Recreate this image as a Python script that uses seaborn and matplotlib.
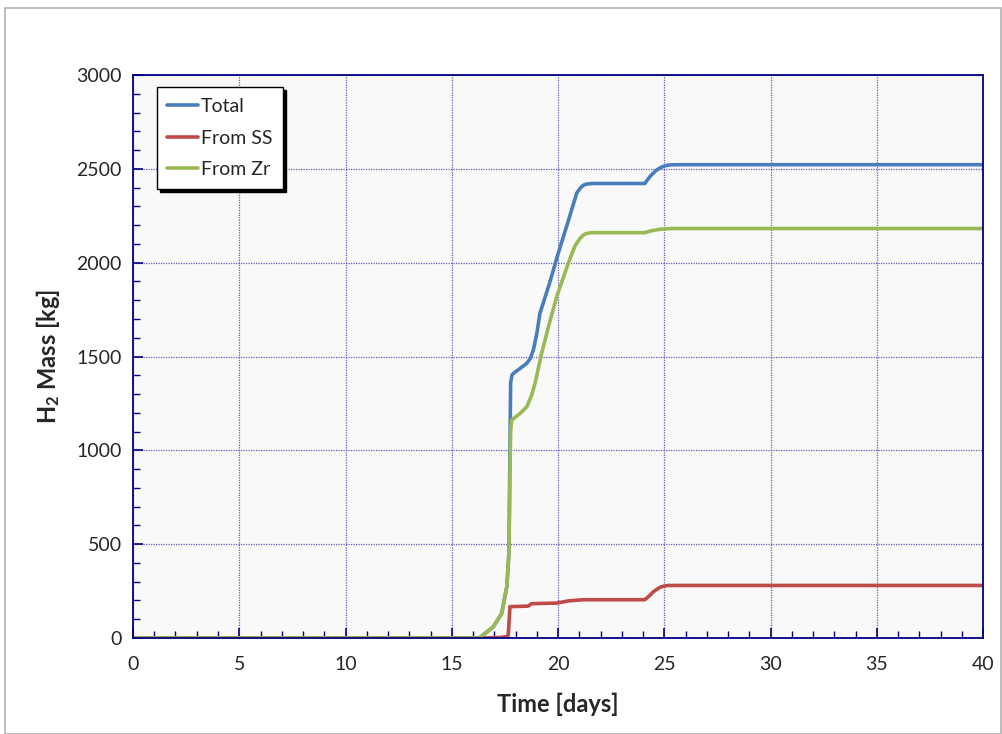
import pandas as pd
import matplotlib.pyplot as plt
import seaborn as sns
from matplotlib.patches import Rectangle
from matplotlib.ticker import MultipleLocator

# Hydrogen mass curves
total_t = [0, 16.3, 16.96, 17.35, 17.59, 17.69, 17.77, 17.83, 17.9, 18.2, 18.53, 18.7,
           18.84, 19.0, 19.15, 19.6, 20.01, 20.45, 20.88, 21.05, 21.2, 21.35, 21.6, 21.8,
           24.09, 24.2, 24.35, 24.6, 24.8, 25.0, 25.2, 25.5, 40]
total_m = [0, 0, 60, 131, 273, 452, 1360, 1400, 1410, 1435, 1464, 1490,
           1535, 1620, 1730, 1890, 2050, 2210, 2370, 2398, 2413, 2419, 2422, 2422,
           2422, 2440, 2462, 2490, 2505, 2515, 2520, 2522, 2522]

zr_t = [0, 16.3, 16.96, 17.35, 17.59, 17.69, 17.77, 17.82, 18.2, 18.53, 18.75, 18.92, 19.23,
        19.6, 19.94, 20.48, 20.8, 21.04, 21.2, 21.35, 21.6, 24.09, 24.4, 24.8, 25.3, 40]
zr_m = [0, 0, 60, 131, 273, 452, 1100, 1162, 1195, 1232, 1290, 1357, 1517,
        1680, 1819, 1996, 2090, 2130, 2148, 2156, 2160, 2160, 2170, 2178, 2182, 2182]

ss_t = [0, 16.5, 17.3, 17.62, 17.66, 17.74, 18.6, 18.75, 19.94, 20.5, 21.19,
        24.09, 24.3, 24.5, 24.8, 25.0, 25.2, 40]
ss_m = [0, 0, 3, 8, 16, 167, 170, 183, 186, 198, 204,
        204, 225, 248, 270, 277, 280, 280]

series = ['Total', 'From SS', 'From Zr']
colors = ['#4a7ebb', '#be4b48', '#98b954']

df = pd.concat([
    pd.DataFrame({'time': total_t, 'mass': total_m, 'series': 'Total'}),
    pd.DataFrame({'time': ss_t, 'mass': ss_m, 'series': 'From SS'}),
    pd.DataFrame({'time': zr_t, 'mass': zr_m, 'series': 'From Zr'}),
])

sns.set_style('ticks')
plt.rcParams['font.family'] = ['Lato', 'DejaVu Sans']
plt.rcParams['mathtext.fontset'] = 'custom'
plt.rcParams['mathtext.bf'] = 'Lato:bold'
plt.rcParams['mathtext.rm'] = 'Lato'

fig = plt.figure(figsize=(10.03, 7.34), dpi=100)
ax = fig.add_axes([133 / 1003, 1 - 638 / 734, 850 / 1003, 563 / 734])
ax.set_facecolor('#f9f9f9')

# outer chart border
fig.patches.append(Rectangle((5 / 1003, 0.0), 1 - 7 / 1003, 1 - 7 / 734 - 0.001,
                             transform=fig.transFigure, fill=False,
                             edgecolor='#b0b0b0', linewidth=1.2))

sns.lineplot(data=df, x='time', y='mass', hue='series', hue_order=series,
             palette=colors, linewidth=2.6, ax=ax, sort=False, estimator=None)

ax.set_xlim(0, 40)
ax.set_ylim(0, 3000)
ax.xaxis.set_major_locator(MultipleLocator(5))
ax.xaxis.set_minor_locator(MultipleLocator(1))
ax.yaxis.set_major_locator(MultipleLocator(500))
ax.yaxis.set_minor_locator(MultipleLocator(100))
ax.tick_params(which='both', direction='in', color='#000080', labelsize=14)
ax.tick_params(axis='y', pad=8)
ax.tick_params(axis='x', pad=13)
ax.tick_params(which='major', length=7, width=1.2)
ax.tick_params(which='minor', length=5, width=1)
ax.grid(which='major', color='#3a3aa8', linestyle=(0, (1, 1)), linewidth=0.9, alpha=0.8)
for s in ax.spines.values():
    s.set_color('#000080')
    s.set_linewidth(1.3)

ax.set_xlabel('Time [days]', fontsize=17, fontweight='bold', labelpad=14)
ax.set_ylabel(r'$\mathbf{H_2}$ Mass [kg]', fontsize=17, fontweight='bold', labelpad=10)

leg = ax.legend(loc='upper left', bbox_to_anchor=(0.028, 0.978), fontsize=14,
                frameon=True, fancybox=False, shadow={'color': 'black', 'alpha': 1},
                handlelength=1.55, handletextpad=0.15, labelspacing=0.75,
                borderpad=0.55, borderaxespad=0)
leg.get_frame().set_edgecolor('black')
leg.get_frame().set_linewidth(1.0)
leg.get_frame().set_facecolor('white')

fig.savefig('out.png', dpi=100)
